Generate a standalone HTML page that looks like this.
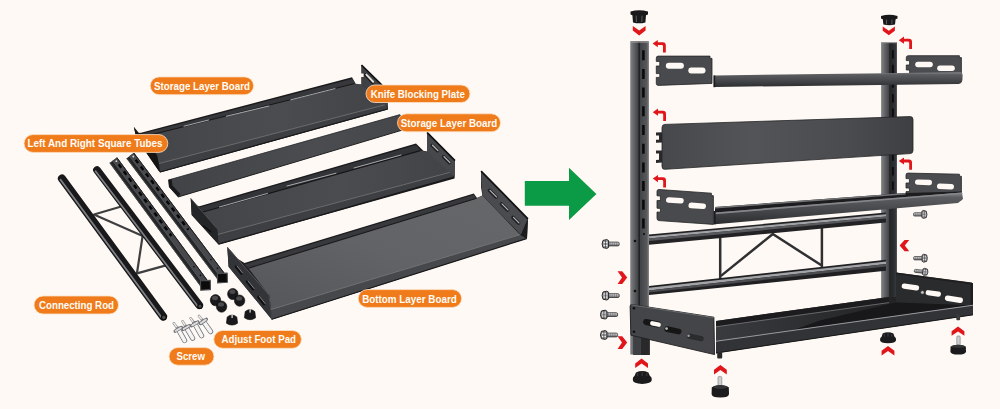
<!DOCTYPE html>
<html lang="en">
<head>
<meta charset="utf-8">
<title>Assembly Diagram</title>
<style>
html,body{margin:0;padding:0;background:#fef9f4;}
body{width:1000px;height:409px;overflow:hidden;font-family:"Liberation Sans",sans-serif;}
svg{display:block;}
.lbl{font-family:"Liberation Sans",sans-serif;font-weight:bold;font-size:11.2px;fill:#fffdf8;}
.pill{fill:#f07b1b;stroke:#fbe2c6;stroke-width:0.8;}
.red{fill:#e0161a;}
</style>
</head>
<body>
<svg width="1000" height="409" viewBox="0 0 1000 409">
<defs>
  <linearGradient id="gFloor1" x1="0" y1="0" x2="1" y2="0">
    <stop offset="0" stop-color="#444549"/><stop offset="0.55" stop-color="#4b4c50"/><stop offset="1" stop-color="#424347"/>
  </linearGradient>
  <linearGradient id="gFloor3" x1="0" y1="1" x2="1" y2="0">
    <stop offset="0" stop-color="#555659"/><stop offset="0.5" stop-color="#626366"/><stop offset="1" stop-color="#666769"/>
  </linearGradient>
  <linearGradient id="gLip" x1="0" y1="0" x2="1" y2="0">
    <stop offset="0" stop-color="#2c2d2f"/><stop offset="1" stop-color="#3a3b3d"/>
  </linearGradient>
  <linearGradient id="gRodH" x1="0" y1="0" x2="0" y2="1">
    <stop offset="0" stop-color="#2a2a2c"/><stop offset="0.3" stop-color="#9b9c9f"/><stop offset="0.55" stop-color="#3a3a3c"/><stop offset="1" stop-color="#151516"/>
  </linearGradient>
  <linearGradient id="gPlate" x1="0" y1="0" x2="1" y2="0">
    <stop offset="0" stop-color="#47484b"/><stop offset="0.35" stop-color="#535457"/><stop offset="0.75" stop-color="#4a4b4e"/><stop offset="1" stop-color="#3e3f42"/>
  </linearGradient>
  <linearGradient id="gShelf" x1="0" y1="0" x2="0" y2="1">
    <stop offset="0" stop-color="#8a8b8e"/><stop offset="0.16" stop-color="#5c5d60"/><stop offset="0.6" stop-color="#444548"/><stop offset="1" stop-color="#2c2d2f"/>
  </linearGradient>
  <linearGradient id="gPostL" x1="0" y1="0" x2="1" y2="0">
    <stop offset="0" stop-color="#808184"/><stop offset="0.35" stop-color="#67686b"/><stop offset="1" stop-color="#3e3f42"/>
  </linearGradient>
  <linearGradient id="gPostR" x1="0" y1="0" x2="1" y2="0">
    <stop offset="0" stop-color="#424346"/><stop offset="0.75" stop-color="#56575a"/><stop offset="1" stop-color="#77787b"/>
  </linearGradient>
  <linearGradient id="gInterior" x1="0" y1="0" x2="1" y2="0">
    <stop offset="0" stop-color="#3a3b3e"/><stop offset="0.45" stop-color="#2a2b2d"/><stop offset="1" stop-color="#19191b"/>
  </linearGradient>
  <linearGradient id="gPostR2" x1="0" y1="0" x2="1" y2="0">
    <stop offset="0" stop-color="#242527"/><stop offset="0.75" stop-color="#333437"/><stop offset="1" stop-color="#58595c"/>
  </linearGradient>
  <linearGradient id="gKP" x1="0" y1="0" x2="1" y2="0">
    <stop offset="0" stop-color="#424346"/><stop offset="0.6" stop-color="#4b4c4f"/><stop offset="1" stop-color="#45464a"/>
  </linearGradient>
  <linearGradient id="gBracket" x1="0" y1="0" x2="1" y2="1">
    <stop offset="0" stop-color="#47484b"/><stop offset="1" stop-color="#38393b"/>
  </linearGradient>
  <linearGradient id="gScrew" x1="0" y1="0" x2="0" y2="1">
    <stop offset="0" stop-color="#f2f2f2"/><stop offset="0.5" stop-color="#a8a8aa"/><stop offset="1" stop-color="#6a6a6c"/>
  </linearGradient>
  <!-- curved "hook on" arrow, tip at 0,0 pointing left -->
  <g id="hookArrow">
    <path class="red" d="M0,3.6 L5.2,0 L5.2,2.2 L10.2,2.2 Q13.2,2.2 13.2,5.4 L13.2,12.4 L10.4,12.4 L10.4,6.2 Q10.4,5 9.2,5 L5.2,5 L5.2,7.2 Z"/>
  </g>
  <!-- chevron pointing down, centred, top at y=0 -->
  <g id="chevDown"><path class="red" d="M-6.4,0 L0,4.4 L6.4,0 L6.4,4.6 L0,9.4 L-6.4,4.6 Z"/></g>
  <g id="chevUp"><path class="red" d="M-6.4,9.4 L0,5 L6.4,9.4 L6.4,4.8 L0,0 L-6.4,4.8 Z"/></g>
  <g id="chevRight"><path class="red" d="M0,-6.4 L4.4,0 L0,6.4 L4.6,6.4 L9.6,0 L4.6,-6.4 Z"/></g>
  <g id="chevLeft"><path class="red" d="M9.6,-6.4 L5.2,0 L9.6,6.4 L5,6.4 L0,0 L5,-6.4 Z"/></g>
  <!-- screw pointing right: head at x=0..6, shaft to 17 -->
  <g id="screwR">
    <rect x="5.6" y="-1.9" width="11.6" height="3.8" rx="1.3" fill="url(#gScrew)" stroke="#2e2e31" stroke-width="0.8"/>
    <path d="M8,-1.8 L8,1.8 M10.2,-1.8 L10.2,1.8 M12.4,-1.8 L12.4,1.8 M14.6,-1.8 L14.6,1.8" stroke="#5a5a5d" stroke-width="0.5"/>
    <path d="M1,-3.6 L4.8,-4.4 L6.6,-3.4 L6.6,3.4 L4.8,4.4 L1,3.6 Q-0.8,0 1,-3.6Z" fill="#9c9c9f" stroke="#242427" stroke-width="1"/>
    <path d="M1.6,-1.6 L5.4,-1.6 M1.6,1.5 L5.4,1.5" stroke="#f2f2f3" stroke-width="1"/>
    <path d="M3.5,-3.8 L3.5,3.8" stroke="#3a3a3d" stroke-width="0.7"/>
  </g>
</defs>

<rect x="0" y="0" width="1000" height="409" fill="#fef9f4"/>

<!-- ================= LEFT: PARTS ================= -->
<g id="parts">


<!-- connecting rods with braces -->
<g id="rods" stroke-linecap="round">
  <g stroke="#3f3f42" stroke-width="2.2" fill="none">
    <line x1="94" y1="214.5" x2="123" y2="206"/>
    <line x1="137" y1="273.4" x2="166" y2="265.4"/>
    <line x1="95" y1="215" x2="145" y2="237"/>
    <line x1="137" y1="273" x2="142.6" y2="236"/>
  </g>
  <line x1="62" y1="178.6" x2="163" y2="316.4" stroke="#19191b" stroke-width="8.2"/>
  <line x1="60.6" y1="179.8" x2="161.4" y2="317.2" stroke="#7f8083" stroke-width="1.8"/>
  <line x1="97" y1="170" x2="199.2" y2="305.2" stroke="#19191b" stroke-width="7.8"/>
  <line x1="95.6" y1="171.2" x2="197.8" y2="306.2" stroke="#7f8083" stroke-width="1.7"/>
  <circle cx="163.8" cy="317.4" r="2.4" fill="#4a4a4c" stroke="#0d0d0e" stroke-width="1.2"/>
  <circle cx="200" cy="306.2" r="2.2" fill="#4a4a4c" stroke="#0d0d0e" stroke-width="1.2"/>
</g>

<!-- square tubes -->
<g id="tubes">
  <polygon points="109.5,163.0 117.1,157.4 209.2,282.5 201.6,288.1" fill="#252628"/>
  <polygon points="112.6,160.7 117.1,157.4 209.2,282.5 204.7,285.8" fill="#47484b"/>
  <line x1="109.8" y1="162.7" x2="201.9" y2="287.8" stroke="#4e4f52" stroke-width="0.8"/>
  <line x1="112.6" y1="160.7" x2="204.7" y2="285.8" stroke="#5f6063" stroke-width="0.7"/>
  <line x1="116.8" y1="157.6" x2="208.9" y2="282.7" stroke="#1a1a1c" stroke-width="0.9"/>
  <line x1="118.7" y1="164.3" x2="171.5" y2="236.0" stroke="#060607" stroke-width="2.4" stroke-dasharray="4.3 4.3"/>
  <circle cx="116.4" cy="161.2" r="0.9" fill="#e0e0e0"/>
  <circle cx="194.0" cy="266.7" r="0.8" fill="#0a0a0b"/>
  <circle cx="200.5" cy="275.4" r="0.8" fill="#0a0a0b"/>
  <polygon points="200.5,280.8 210.3,280.4 210.5,289.6 200.7,290.2" fill="#0b0b0c" stroke="#4d4e51" stroke-width="1.1" stroke-linejoin="round"/>
  <polygon points="126.4,158.4 134.0,152.8 226.1,275.2 218.5,280.8" fill="#252628"/>
  <polygon points="129.5,156.1 134.0,152.8 226.1,275.2 221.6,278.5" fill="#47484b"/>
  <line x1="126.8" y1="158.2" x2="218.9" y2="280.6" stroke="#4e4f52" stroke-width="0.8"/>
  <line x1="129.5" y1="156.1" x2="221.6" y2="278.5" stroke="#5f6063" stroke-width="0.7"/>
  <line x1="133.7" y1="153.0" x2="225.8" y2="275.4" stroke="#1a1a1c" stroke-width="0.9"/>
  <line x1="135.6" y1="159.7" x2="188.4" y2="229.8" stroke="#060607" stroke-width="2.4" stroke-dasharray="4.3 4.3"/>
  <circle cx="133.3" cy="156.5" r="0.9" fill="#e0e0e0"/>
  <circle cx="210.9" cy="259.7" r="0.8" fill="#0a0a0b"/>
  <circle cx="217.4" cy="268.3" r="0.8" fill="#0a0a0b"/>
  <polygon points="217.4,273.5 227.2,273.1 227.4,282.3 217.6,282.9" fill="#0b0b0c" stroke="#4d4e51" stroke-width="1.1" stroke-linejoin="round"/>
</g>

<!-- tray 1 : top storage layer board -->
<g id="tray1">
  <polygon points="133.8,126.8 136.5,133 141,132.8 352,77.2 356,84.4 361.5,84.4 361.5,65 387,90 388,109.5 160,172.4 136.5,138" fill="#1b1b1d"/>
  <polygon points="141.2,134 352.4,78.8 355.4,83.6 144,137.2" fill="#37383b"/>
  <polygon points="143.4,136.8 354,83.6 361.5,84.6 386,104.6 159,163.6 157,155.4" fill="url(#gFloor1)"/>
  <line x1="143.4" y1="136.8" x2="354.4" y2="83.6" stroke="#161617" stroke-width="1"/>
  <polygon points="159,163.5 386,104.5 387.4,109.2 160,172.2" fill="#3e3f42"/>
  <line x1="159" y1="163.5" x2="386" y2="104.5" stroke="#6f7073" stroke-width="0.9"/>
  <line x1="160" y1="172" x2="387.4" y2="109" stroke="#19191b" stroke-width="1.2"/>
  <polygon points="133.8,126.8 157,155.2 159.6,172.2 136.4,138.5" fill="#141415"/>
  <polygon points="361.5,65 387,90 387.4,107 361.5,84.4" fill="#3f4043"/>
  <line x1="361.5" y1="65" x2="387" y2="90" stroke="#0f0f10" stroke-width="1.6"/>
  <g stroke="#a7a8aa" stroke-width="1" stroke-linecap="round">
    <line x1="184" y1="126.2" x2="208.6" y2="120"/>
    <line x1="226.3" y1="116.2" x2="268.8" y2="106"/>
    <line x1="290.8" y1="99.8" x2="335" y2="88.6"/>
  </g>
  <line x1="365.8" y1="74.8" x2="372.6" y2="82" stroke="#17171a" stroke-width="3.6" stroke-linecap="round"/>
  <line x1="366.4" y1="74.6" x2="373.2" y2="81.8" stroke="#e4e1dc" stroke-width="2" stroke-linecap="round"/>
  <polygon points="361,73.5 363.6,73.5 363.6,77 361,77" fill="#fef9f4"/>
</g>

<!-- knife blocking plate (flat) -->
<g id="knifeplate">
  <polygon points="168.3,180 400,114.6 414,126.6 178,197 169,187" fill="url(#gKP)"/>
  <polygon points="168.3,180 169,187 178,197 180.4,194 172.4,185.4 171.8,179" fill="#19191b"/>
  <line x1="168.3" y1="180" x2="400" y2="114.6" stroke="#25262a" stroke-width="0.8"/>
  <line x1="178" y1="197" x2="414" y2="126.6" stroke="#1d1d1f" stroke-width="1"/>
</g>

<!-- tray 2 : second storage layer board -->
<g id="tray2">
  <polygon points="190.7,198.3 194,205 199.5,206.2 416,143.5 423.3,150.8 427,151.6 427,132.4 455,160.6 454.6,178.4 218.5,244.4 191.7,215" fill="#1b1b1d"/>
  <polygon points="199.6,207.4 416.2,145 420.4,150.6 203.4,212.4" fill="#333437"/>
  <polygon points="203,212 420,150.6 427,151.8 452.4,171.8 217.8,234.6 216.8,228.8" fill="url(#gFloor1)"/>
  <line x1="203" y1="212" x2="420.4" y2="150.6" stroke="#161617" stroke-width="1.1"/>
  <polygon points="217.5,234.5 452.6,171.6 453.6,177.2 218.5,244.3" fill="#3e3f42"/>
  <line x1="217.5" y1="234.5" x2="452.6" y2="171.6" stroke="#6f7073" stroke-width="0.9"/>
  <line x1="218.5" y1="244.2" x2="453.6" y2="177.2" stroke="#19191b" stroke-width="1.2"/>
  <polygon points="190.7,198.3 217.1,228.6 218.5,244.3 191.7,215" fill="#242527"/>
  <line x1="190.7" y1="198.3" x2="217.1" y2="228.6" stroke="#55565a" stroke-width="0.9"/>
  <line x1="203.6" y1="226" x2="210.6" y2="231.6" stroke="#0e0e0f" stroke-width="1.6" stroke-linecap="round"/>
  <polygon points="427,132.4 455,160.6 454.6,176.8 427,151.8" fill="#47484b"/>
  <line x1="427" y1="132.4" x2="455" y2="160.6" stroke="#0f0f10" stroke-width="1.6"/>
  <g stroke="#a7a8aa" stroke-width="1" stroke-linecap="round">
    <line x1="219.5" y1="207" x2="267.5" y2="193.4"/>
    <line x1="287" y1="186" x2="336" y2="173.2"/>
    <line x1="354" y1="168" x2="401" y2="155"/>
  </g>
  <g stroke="#202123" stroke-width="3.4" stroke-linecap="round">
    <line x1="432" y1="145.4" x2="437.5" y2="150.8"/>
    <line x1="443.5" y1="156.8" x2="449.5" y2="162.8"/>
  </g>
  <g stroke="#b9babc" stroke-width="1.2" stroke-linecap="round">
    <line x1="432.5" y1="145.2" x2="438" y2="150.6"/>
    <line x1="444" y1="156.6" x2="450" y2="162.6"/>
  </g>
</g>

<!-- tray 3 : bottom layer board -->
<g id="tray3">
  <polygon points="227.3,247.1 238,259 244.5,263 473.8,193.4 477,198 482.4,195.6 481.1,187.5 481.1,171.1 527.9,218.8 527,238.4 271.8,319.6 228.6,266.7" fill="#1d1d1f"/>
  <polygon points="244.5,264.4 473.8,194.8 476.6,198.4 248.6,268.6" fill="#38393c"/>
  <polygon points="248.4,268.2 476.4,198.2 482.4,195.4 520,234.7 271,309.6 269.4,295.4" fill="url(#gFloor3)"/>
  <line x1="248.4" y1="268.2" x2="476.6" y2="198.2" stroke="#1a1a1c" stroke-width="1.1"/>
  <polygon points="271,309.5 520,234.7 526.6,238.6 271.8,319.5" fill="#47484b"/>
  <line x1="271" y1="309.5" x2="520" y2="234.7" stroke="#77787b" stroke-width="0.9"/>
  <line x1="271.8" y1="319.3" x2="526.6" y2="238.6" stroke="#1a1a1c" stroke-width="1.2"/>
  <polygon points="227.3,247.1 268.9,294.8 271.8,319.5 228.6,266.7" fill="#333437"/>
  <line x1="227.3" y1="247.1" x2="268.9" y2="294.8" stroke="#5d5e61" stroke-width="0.9"/>
  <line x1="268.9" y1="294.8" x2="271.8" y2="319.5" stroke="#47484b" stroke-width="1"/>
  <polygon points="481.1,171.1 527.9,218.8 521,235 482.4,195.2" fill="#4a4b4e"/>
  <polygon points="527.9,218.8 527,238.4 521,235" fill="#1c1c1e"/>
  <line x1="481.1" y1="171.1" x2="527.9" y2="218.8" stroke="#121213" stroke-width="1.8"/>
  <g stroke="#0f0f10" stroke-width="2.6" stroke-linecap="round">
    <line x1="236" y1="266.5" x2="241.5" y2="273.5"/>
    <line x1="247" y1="281.5" x2="253" y2="289"/>
    <line x1="258.5" y1="297" x2="264" y2="304"/>
  </g>
  <g stroke="#8f9093" stroke-width="0.9" stroke-linecap="round">
    <line x1="237" y1="266" x2="242.5" y2="273"/>
    <line x1="248" y1="281" x2="254" y2="288.5"/>
    <line x1="259.5" y1="296.5" x2="265" y2="303.5"/>
  </g>
  <g stroke="#202123" stroke-width="3.6" stroke-linecap="round">
    <line x1="489.5" y1="190.5" x2="496" y2="197"/>
    <line x1="501.5" y1="204" x2="507.5" y2="210"/>
    <line x1="513" y1="217.5" x2="518.5" y2="223"/>
  </g>
  <g stroke="#b4b5b7" stroke-width="1.2" stroke-linecap="round">
    <line x1="490" y1="190.4" x2="496.5" y2="196.9"/>
    <line x1="502" y1="203.9" x2="508" y2="209.9"/>
    <line x1="513.5" y1="217.4" x2="519" y2="222.9"/>
  </g>
</g>

<!-- adjust foot pads -->
<g id="pads">
  <g fill="#19191b" stroke="#0b0b0c" stroke-width="0.6">
    <ellipse cx="215.5" cy="300.2" rx="5.2" ry="5.6"/>
    <ellipse cx="221.6" cy="306.6" rx="5.2" ry="5.6"/>
    <ellipse cx="232.8" cy="294" rx="5.2" ry="5.6"/>
    <ellipse cx="239.6" cy="300.6" rx="5.2" ry="5.6"/>
    <path d="M227.2,317 Q232,313 236.8,317 L237.6,323.2 Q232,327 226.4,323.2Z"/>
    <path d="M245.2,311.6 Q250,307.6 254.8,311.6 L255.6,317.8 Q250,321.6 244.4,317.8Z"/>
  </g>
  <g fill="#4b4b4e">
    <ellipse cx="215" cy="298" rx="3" ry="2.2"/><ellipse cx="221" cy="304.4" rx="3" ry="2.2"/>
    <ellipse cx="232.4" cy="291.8" rx="3" ry="2.2"/><ellipse cx="239.2" cy="298.4" rx="3" ry="2.2"/>
  </g>
  <rect x="231.5" y="314.6" width="1.2" height="3.4" fill="#e9e9e9"/><rect x="249.5" y="309.2" width="1.2" height="3.4" fill="#e9e9e9"/>
</g>

<!-- screws -->
<g id="screws" stroke-linecap="round">
    <line x1="173.8" y1="323.2" x2="178.3" y2="329.3" stroke="#8b8c8f" stroke-width="2.6"/>
    <line x1="173.8" y1="323.2" x2="178.3" y2="329.3" stroke="#f1f1f2" stroke-width="1.4"/>
    <line x1="178.3" y1="329.3" x2="184.6" y2="340.6" stroke="#77787b" stroke-width="5.2"/>
    <line x1="178.3" y1="329.3" x2="184.6" y2="340.6" stroke="#f4f4f5" stroke-width="3.6"/>
    <line x1="181.4" y1="327.5" x2="175.2" y2="331.1" stroke="#6d6e71" stroke-width="3.4"/>
    <line x1="180.9" y1="327.8" x2="175.7" y2="330.8" stroke="#dcdcde" stroke-width="2"/>
    <line x1="182.6" y1="321.4" x2="186.3" y2="327.5" stroke="#8b8c8f" stroke-width="2.6"/>
    <line x1="182.6" y1="321.4" x2="186.3" y2="327.5" stroke="#f1f1f2" stroke-width="1.4"/>
    <line x1="186.3" y1="327.5" x2="192.6" y2="338.2" stroke="#77787b" stroke-width="5.2"/>
    <line x1="186.3" y1="327.5" x2="192.6" y2="338.2" stroke="#f4f4f5" stroke-width="3.6"/>
    <line x1="189.4" y1="325.7" x2="183.2" y2="329.3" stroke="#6d6e71" stroke-width="3.4"/>
    <line x1="188.9" y1="326.0" x2="183.7" y2="329.0" stroke="#dcdcde" stroke-width="2"/>
    <line x1="190.6" y1="318.3" x2="194.8" y2="323.8" stroke="#8b8c8f" stroke-width="2.6"/>
    <line x1="190.6" y1="318.3" x2="194.8" y2="323.8" stroke="#f1f1f2" stroke-width="1.4"/>
    <line x1="194.8" y1="323.8" x2="201.6" y2="335.8" stroke="#77787b" stroke-width="5.2"/>
    <line x1="194.8" y1="323.8" x2="201.6" y2="335.8" stroke="#f4f4f5" stroke-width="3.6"/>
    <line x1="197.9" y1="322.0" x2="191.7" y2="325.6" stroke="#6d6e71" stroke-width="3.4"/>
    <line x1="197.4" y1="322.3" x2="192.2" y2="325.3" stroke="#dcdcde" stroke-width="2"/>
    <line x1="199" y1="316" x2="203.4" y2="321.4" stroke="#8b8c8f" stroke-width="2.6"/>
    <line x1="199" y1="316" x2="203.4" y2="321.4" stroke="#f1f1f2" stroke-width="1.4"/>
    <line x1="203.4" y1="321.4" x2="210.6" y2="331.6" stroke="#77787b" stroke-width="5.2"/>
    <line x1="203.4" y1="321.4" x2="210.6" y2="331.6" stroke="#f4f4f5" stroke-width="3.6"/>
    <line x1="206.3" y1="319.3" x2="200.5" y2="323.5" stroke="#6d6e71" stroke-width="3.4"/>
    <line x1="205.9" y1="319.7" x2="200.9" y2="323.1" stroke="#dcdcde" stroke-width="2"/>
</g>


</g>

<!-- ================= GREEN ARROW ================= -->
<path d="M524.8,181 L569,181 L569,167.8 L596.4,194 L569,220 L569,205.8 L524.8,205.8 Z" fill="#0b9a45"/>

<!-- ================= RIGHT: ASSEMBLED ================= -->
<g id="assembled">


<!-- right bracket 1 & 2 (behind shelves) -->
<g id="rbrackets">
  <path d="M906.3,57.6 Q906.3,55.7 908.3,55.7 L959.4,55.7 L959.4,57.6 L961.4,57.6 L961.4,80 L906.3,80 L906.3,73.6 L909.6,73.6 L909.6,70 L906.3,70 L906.3,65 L909.6,65 L909.6,60.6 L906.3,60.6 Z" fill="#4b4c4f" stroke="#242527" stroke-width="0.8"/>
  <rect x="915.2" y="61.8" width="17.6" height="5.4" rx="2.7" fill="#fef9f4"/>
  <rect x="937.2" y="65.6" width="17.6" height="5.4" rx="2.7" fill="#fef9f4"/>
  <path d="M906,175 Q906,173 908,173.1 L959.4,174.2 L959.4,176.2 L961.4,176.3 L961.4,200 L906,200 L906,191.6 L909.4,191.6 L909.4,188 L906,188 L906,183 L909.4,183 L909.4,178.6 L906,178.6 Z" fill="#4b4c4f" stroke="#242527" stroke-width="0.8"/>
  <rect x="915" y="179.6" width="17" height="5.4" rx="2.7" fill="#fef9f4" transform="rotate(2 923 182)"/>
  <rect x="937" y="183.8" width="17" height="5.4" rx="2.7" fill="#fef9f4" transform="rotate(2 945 186)"/>
</g>

<!-- right post -->
<g id="rpost">
  <rect x="881.5" y="42" width="15.4" height="262" fill="#3a3b3e"/>
  <rect x="881.5" y="42" width="8" height="262" fill="url(#gPostL)"/>
  <rect x="889.2" y="42" width="1.6" height="262" fill="#222325"/>
  <rect x="890.8" y="42" width="6.1" height="262" fill="url(#gPostR2)"/>
  <line x1="892.9" y1="50.2" x2="892.9" y2="192" stroke="#0a0a0b" stroke-width="1.7" stroke-dasharray="8.4 6.2"/>
  <rect x="881.5" y="42" width="15.4" height="1.2" fill="#97989b"/>
</g>

<!-- rods between posts -->
<g id="hrods">
  <g stroke="#303033" stroke-width="2.5" fill="none" stroke-linecap="round" stroke-linejoin="round">
    <line x1="720.2" y1="236" x2="720.2" y2="279"/>
    <line x1="821.9" y1="226" x2="821.9" y2="267"/>
    <polyline points="721.6,275.4 772.8,234 820.6,264.8"/>
  </g>
  <polygon points="649,234.6 886,212.6 886,222.6 649,244.8" fill="#232325"/>
  <polygon points="649,236.2 886,214.2 886,216.4 649,238.6" fill="#a2a3a6"/>
  <polygon points="649,238.6 886,216.4 886,218.6 649,241" fill="#58595c"/>
  <polygon points="649,286 886,259.8 886,270.8 649,295" fill="#202022"/>
  <polygon points="649,287.8 886,261.6 886,264 649,290.4" fill="#a2a3a6"/>
  <polygon points="649,290.4 886,264 886,266.4 649,292.6" fill="#4c4d50"/>
</g>

<!-- left post -->
<g id="lpost">
  <rect x="630.6" y="41.3" width="18" height="313" fill="#48494c"/>
  <rect x="630.6" y="41.3" width="8" height="313" fill="url(#gPostL)"/>
  <rect x="638.4" y="41.3" width="1.7" height="313" fill="#222325"/>
  <rect x="640.1" y="41.3" width="8.5" height="313" fill="url(#gPostR)"/>
  <line x1="643.4" y1="50.2" x2="643.4" y2="232" stroke="#0a0a0b" stroke-width="2.6" stroke-dasharray="10 8.7"/>
  <rect x="630.6" y="41.3" width="18" height="1.3" fill="#97989b"/>
  <g fill="#0e0e0f"><circle cx="635" cy="241" r="1.3"/><circle cx="635" cy="291" r="1.3"/><circle cx="644" cy="234" r="1.1"/></g>
</g>

<!-- caps -->
<g id="caps" fill="#19191b">
  <path d="M630.5,11.6 Q639.2,9 648,11.6 L648,14.6 L646,15.2 L645.4,22.4 Q639.2,24.2 633,22.4 L632.4,15.2 L630.5,14.6 Z"/>
  <path d="M881,16 Q889.2,13.6 897.5,16 L897.5,18.6 L895.6,19.2 L895,24.6 Q889.2,26 883.4,24.6 L882.8,19.2 L881,18.6 Z"/>
  <g stroke="#6c6d70" stroke-width="0.8"><line x1="636.2" y1="15.6" x2="636.4" y2="22"/><line x1="642" y1="15.6" x2="641.8" y2="22"/><line x1="886.4" y1="19.6" x2="886.6" y2="24.4"/><line x1="892" y1="19.6" x2="891.8" y2="24.4"/></g>
</g>

<!-- left brackets -->
<g id="lbrackets">
  <path d="M656.3,58 Q656.3,56.1 658.3,56.1 L710,56.1 L710,58.4 L712,58.4 L712,83.4 L658.3,85.4 Q656.3,85.4 656.3,83.6 L656.3,77.4 L659.8,77.4 L659.8,73.6 L656.3,73.6 L656.3,66 L659.8,66 L659.8,61.4 L656.3,61.4 Z" fill="#494a4d" stroke="#232426" stroke-width="0.8"/>
  <rect x="665.8" y="62.7" width="18.1" height="6" rx="3" fill="#fef9f4"/>
  <rect x="688.3" y="67.6" width="17.2" height="5.8" rx="2.9" fill="#fef9f4"/>
  <path d="M657,191.4 Q657,189.4 659,189.5 L711.4,193.2 L711.4,195.5 L713.4,195.7 L713.4,224.4 L659,220.6 Q657,220.4 657,218.4 L657,212 L660.4,212.2 L660.4,208.4 L657,208.2 L657,200.4 L660.4,200.6 L660.4,196 L657,195.8 Z" fill="#494a4d" stroke="#232426" stroke-width="0.8"/>
  <rect x="666" y="197.6" width="17.8" height="5.6" rx="2.8" fill="#fef9f4" transform="rotate(4 675 200)"/>
  <rect x="688.4" y="203" width="17.6" height="5.6" rx="2.8" fill="#fef9f4" transform="rotate(4 697 206)"/>
</g>

<!-- shelf 1 -->
<g id="shelf1">
  <path d="M714.7,75.5 L960.5,72.2 Q962.6,72.4 962.6,75 L962.4,80 Q962,83.6 958.6,83.9 L714.7,87 Z" fill="url(#gShelf)"/>
  <rect x="713.4" y="75.4" width="1.8" height="11.8" fill="#1c1c1e"/>
</g>

<!-- knife plate -->
<g id="kplate">
  <path d="M656,132.5 L662,132.3 L662,142.6 L656,142.8 L656,139.8 L659,139.7 L659,135.4 L656,135.5 Z M656,150.6 L662,150.4 L662,162.6 L656,162.9 L656,159.9 L659,159.8 L659,153.5 L656,153.6 Z" fill="#2a2a2c"/>
  <path d="M665,124.4 L910,116.6 Q913,116.5 913,119.5 L913,150.6 Q913,153.4 910,153.6 L665,169.3 Q662,169.5 662,166.5 L662,127.5 Q662,124.5 665,124.4 Z" fill="url(#gPlate)" stroke="#242527" stroke-width="0.8"/>
</g>

<!-- shelf 2 -->
<g id="shelf2">
  <polygon points="715,207 905.5,193 962,191.6 962,193 715,213" fill="#1d1d1f"/>
  <polygon points="715,207 905.5,193 905.5,194.4 715,208.6" fill="#737477"/>
  <polygon points="715,212.4 962,192.4 963,199 958,203 715,224.2" fill="url(#gShelf)"/>
  <polygon points="715,212.4 962,192.4 962.3,194 715,214.2" fill="#85868a"/>
  <rect x="713.6" y="211" width="2" height="13.4" fill="#1c1c1e"/>
</g>

<!-- bottom tray -->
<g id="btray">
  <!-- right side plate (inner face) -->
  <polygon points="896,272.4 971.6,282.6 973,284 973,315 896,304" fill="#2a2b2d"/>
  <polygon points="896,272.4 973,283 973,315 970.6,314.6 970.6,284.4 896,274.2" fill="#1f1f21"/>
  <g fill="#fef9f4">
    <rect x="901.6" y="284.4" width="17.6" height="5.2" rx="2.6" transform="rotate(8 910 287)"/>
    <rect x="925.6" y="290.8" width="15.4" height="5.2" rx="2.6" transform="rotate(8 933 293.4)"/>
    <rect x="944.8" y="296.6" width="18.2" height="5.4" rx="2.7" transform="rotate(9 954 299.4)"/>
  </g>
  <!-- interior: back wall face -->
  <polygon points="716,321 889,297 896,297 896,302.5 973,305.5 716,341.6" fill="url(#gInterior)"/>
  <!-- floor visible to the right -->
  <polygon points="820,320.5 896,302.4 973,305.4 790,331.2" fill="#18181a"/>
  <!-- rolled top edge -->
  <polygon points="716,321 889,297 889,302.4 716,326.6" fill="#1c1c1e"/>
  <line x1="716" y1="326.8" x2="889" y2="302.6" stroke="#77787b" stroke-width="0.8"/>
  <!-- front lip -->
  <polygon points="716,341 973,305 973,315 716,353.2" fill="#323336"/>
  <line x1="716" y1="341.2" x2="973" y2="305.2" stroke="#9a9b9e" stroke-width="1.1"/>
  <line x1="716" y1="353" x2="973" y2="314.8" stroke="#151516" stroke-width="1"/>
  <!-- post bottom stub visible below plate -->
  <rect x="633.5" y="333" width="16.4" height="22" fill="#29292b"/>
  <rect x="633.5" y="333" width="7.6" height="22" fill="#3f4043"/>
  <!-- left side plate -->
  <path d="M630.1,306.4 Q630.1,304.2 632.4,304.6 L713.9,317.2 L714.6,354.6 L630.9,335.2 Z" fill="#444548" stroke="#202022" stroke-width="0.9"/>
  <line x1="631.4" y1="304.9" x2="713.6" y2="317.6" stroke="#77787b" stroke-width="0.8"/>
  <g>
    <rect x="643" y="320.2" width="18" height="6" rx="3" fill="#161617" transform="rotate(12 652 323)"/>
    <rect x="650" y="321.8" width="11" height="4.4" rx="2.2" fill="#fef9f4" transform="rotate(12 655.5 324)"/>
    <rect x="664.3" y="327.4" width="17.4" height="5.8" rx="2.9" fill="#161617" transform="rotate(12 673 330.2)"/>
    <circle cx="666.6" cy="328.6" r="1.4" fill="#b5b5b7"/>
    <rect x="686.6" y="334.6" width="17.2" height="5.4" rx="2.7" fill="#2b2c2e" transform="rotate(12 695 337.4)"/>
    <circle cx="688.6" cy="335.8" r="1.3" fill="#9b9b9d"/>
    <circle cx="634" cy="308.3" r="1.3" fill="#0e0e0f"/><circle cx="634" cy="331.8" r="1.3" fill="#0e0e0f"/>
  </g>
  <!-- stubs -->
  <rect x="717.2" y="352" width="5" height="6.4" rx="1" fill="#2a2a2c"/>
  <rect x="956.3" y="314.5" width="3.8" height="5.8" rx="1" fill="#3a3a3c"/>
</g>

<!-- foot pads (assembled view) -->
<g id="apads" fill="#1b1b1d">
  <path d="M636,372.4 Q642.2,369.8 648.4,372.4 L649.8,375.8 Q652.2,377 651.8,380 Q651.2,383.8 642.2,383.9 Q633.2,383.8 632.8,380 Q632.4,377 634.6,375.8 Z"/>
  <path d="M637.4,373 L637.8,376 M642.2,372 L642.2,376 M647,373 L646.6,376" stroke="#4a4a4d" stroke-width="0.7" fill="none"/>
  <rect x="718" y="376.6" width="3.8" height="10.6" rx="1" fill="#cfcfd1" stroke="#77787b" stroke-width="0.6"/>
  <path d="M711.8,387.2 Q720.2,383.4 728.8,387.2 L729,394 Q729,397.5 720.3,397.5 Q711.6,397.5 711.6,394 Z"/>
  <ellipse cx="720.3" cy="387" rx="7.4" ry="1.9" fill="#343437"/>
  <path d="M882.6,333.6 Q888,331 893.4,333.6 L894.4,336.4 Q896.4,337.6 896.1,340 Q895.6,343.3 888,343.3 Q880.4,343.3 880,340 Q879.8,337.6 881.8,336.4 Z"/>
  <path d="M884.2,334 L884.5,336.6 M888,333 L888,336.6 M891.8,334 L891.5,336.6" stroke="#4a4a4d" stroke-width="0.7" fill="none"/>
  <rect x="956.8" y="336" width="3.4" height="10" rx="1" fill="#cfcfd1" stroke="#77787b" stroke-width="0.6"/>
  <path d="M950.6,346.6 Q958.2,343 965.8,346.6 L966,351.4 Q966,354.5 958.2,354.5 Q950.4,354.5 950.4,351.4 Z"/>
  <ellipse cx="958.2" cy="346.4" rx="6.6" ry="1.7" fill="#343437"/>
</g>

<!-- screws -->
<g id="ascrews">
  <use href="#screwR" x="602" y="244"/>
  <use href="#screwR" x="602" y="295.6"/>
  <use href="#screwR" x="600.4" y="314.6"/>
  <use href="#screwR" x="600.4" y="335"/>
  <g transform="translate(927,214.4) scale(-0.78,0.9)"><use href="#screwR"/></g>
  <g transform="translate(927.4,258.2) scale(-0.8,0.9)"><use href="#screwR"/></g>
  <g transform="translate(928,272.2) scale(-0.8,0.8) rotate(-6)"><use href="#screwR"/></g>
  <circle cx="922.4" cy="292.4" r="1.6" fill="#c9c9cb" stroke="#555" stroke-width="0.5"/>
</g>

<!-- red guides -->
<g id="redguides">
  <use href="#chevDown" x="639.2" y="26"/>
  <use href="#chevDown" x="888.8" y="26.6" transform="translate(888.8 26.6) scale(0.95 0.92) translate(-888.8 -26.6)"/>
  <use href="#hookArrow" x="652.6" y="40"/>
  <use href="#hookArrow" x="652.8" y="108.6"/>
  <use href="#hookArrow" x="652.8" y="175"/>
  <use href="#hookArrow" x="898.8" y="36.6"/>
  <use href="#hookArrow" x="898.8" y="157.4"/>
  <use href="#chevRight" x="617.6" y="277.6"/>
  <use href="#chevRight" x="617.6" y="342.6"/>
  <use href="#chevLeft" x="899.6" y="245.6" transform="translate(899.6 245.6) scale(1 0.88) translate(-899.6 -245.6)"/>
  <use href="#chevUp" x="641.6" y="358.6"/>
  <use href="#chevUp" x="720.4" y="365"/>
  <use href="#chevUp" x="888" y="346"/>
  <use href="#chevUp" x="958" y="326.4"/>
</g>


</g>

<!-- ================= LABELS ================= -->
<g id="labels">
<rect class="pill" x="150.2" y="76.9" width="103.4" height="17.8" rx="8.9"/>
<text class="lbl" x="154" y="89.5" textLength="96" lengthAdjust="spacingAndGlyphs">Storage Layer Board</text>
<rect class="pill" x="366" y="85" width="104" height="17.5" rx="8.75"/>
<text class="lbl" x="370.8" y="97.5" textLength="94" lengthAdjust="spacingAndGlyphs">Knife Blocking Plate</text>
<rect class="pill" x="397.5" y="113.8" width="103" height="18" rx="9.00"/>
<text class="lbl" x="400.8" y="126.5" textLength="96.5" lengthAdjust="spacingAndGlyphs">Storage Layer Board</text>
<rect class="pill" x="24" y="134.6" width="143.8" height="17.8" rx="8.9"/>
<text class="lbl" x="27.5" y="146.9" textLength="135" lengthAdjust="spacingAndGlyphs">Left And Right Square Tubes</text>
<rect class="pill" x="34" y="296" width="84.5" height="18" rx="9.00"/>
<text class="lbl" x="39" y="308.7" textLength="75" lengthAdjust="spacingAndGlyphs">Connecting Rod</text>
<rect class="pill" x="358.2" y="289.6" width="103.4" height="17.8" rx="8.9"/>
<text class="lbl" x="362.2" y="302.5" textLength="94.6" lengthAdjust="spacingAndGlyphs">Bottom Layer Board</text>
<rect class="pill" x="213.8" y="330.5" width="87.6" height="17.8" rx="8.9"/>
<text class="lbl" x="221.5" y="343.3" textLength="74.5" lengthAdjust="spacingAndGlyphs">Adjust Foot Pad</text>
<rect class="pill" x="169" y="347.6" width="45" height="17.6" rx="8.8"/>
<text class="lbl" x="176.5" y="360.2" textLength="28.5" lengthAdjust="spacingAndGlyphs">Screw</text>
</g>
</svg>
</body>
</html>
